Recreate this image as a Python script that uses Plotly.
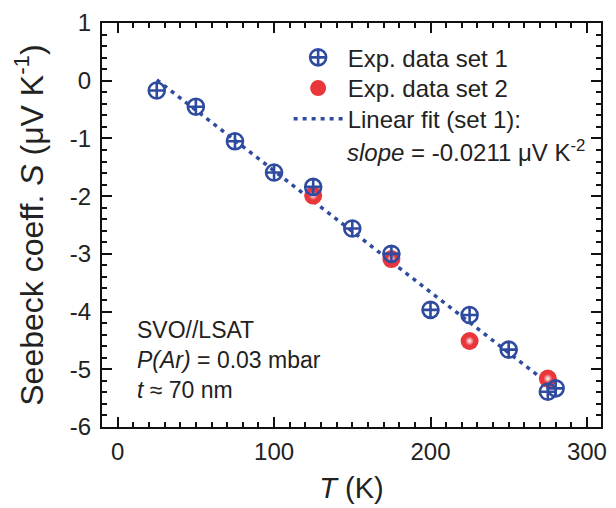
import numpy as np
import plotly.graph_objects as go

# ---- data ----
T_set1 = [25, 50, 75, 100, 125, 150, 175, 200, 225, 250, 275, 280]
S_set1 = [-0.17, -0.45, -1.05, -1.59, -1.84, -2.56, -3.00, -3.97, -4.06, -4.66, -5.39, -5.33]
T_set2 = [125, 175, 225, 275]
S_set2 = [-1.99, -3.09, -4.51, -5.16]
fit_T_range = [25, 275]

y_tickvals = [1, 0, -1, -2, -3, -4, -5, -6]
y_ticktext = ["1", "0", "-1", "-2", "-3", "-4", "-5", "-6"]
x_tickvals = [0, 100, 200, 300]

BLUE = "#2f4b9f"
RED = "#e8363b"
TXT = "#222"
FONT = "Liberation Sans"

slope, intercept = np.polyfit(T_set1, S_set1, 1)
fit_x = np.array(fit_T_range, dtype=float)
fit_y = slope * fit_x + intercept

fig = go.Figure()

fig.add_trace(go.Scatter(
    x=fit_x, y=fit_y, mode="lines",
    line=dict(color=BLUE, width=3.5, dash="4px,5px"),
    name="Linear fit (set 1):", legend="legend3",
))
fig.add_trace(go.Scatter(
    x=T_set2, y=S_set2, mode="markers",
    marker=dict(symbol="circle", size=18, color=RED, line=dict(width=0)),
    name="Exp. data set 2", legend="legend2",
))
fig.add_trace(go.Scatter(
    x=T_set2, y=S_set2, mode="markers",
    marker=dict(symbol="circle", size=9, color=RED,
                gradient=dict(type="radial", color="white"), line=dict(width=0)),
    showlegend=False, hoverinfo="skip",
))
fig.add_trace(go.Scatter(
    x=T_set1, y=S_set1, mode="markers",
    marker=dict(symbol="circle-cross-open", size=16, color=BLUE,
                line=dict(width=2.6, color=BLUE)),
    name="Exp. data set 1", legend="legend",
))

fig.add_annotation(
    xref="paper", yref="paper", x=0.487, y=0.684, xanchor="left", yanchor="middle",
    showarrow=False,
    text="<i>slope</i> = -0.0211 \u03bcV K<sup>-2</sup>",
    font=dict(family=FONT, size=24, color=TXT),
)

fig.add_annotation(
    xref="paper", yref="paper", x=0.066, y=0.278, xanchor="left", yanchor="top",
    align="left", showarrow=False,
    text="SVO//LSAT<br><i>P(Ar)</i> = 0.03 mbar<br><i>t</i> \u2248 70 nm",
    font=dict(family=FONT, size=23, color=TXT),
)

axis_common = dict(
    showline=True, linecolor="#111111", linewidth=2, mirror="ticks",
    ticks="inside", ticklen=10, tickwidth=1.8, tickcolor="#111111",
    showgrid=False, zeroline=False,
    tickfont=dict(family=FONT, size=24, color=TXT),
)

fig.update_xaxes(
    **axis_common, range=[-10, 309], tickvals=x_tickvals,
    minor=dict(dtick=10, ticks="inside", ticklen=5, tickwidth=1.5, tickcolor="#111111"),
    title=dict(text="<i>T</i> (K)", font=dict(family=FONT, size=29, color=TXT), standoff=14),
    ticklabelstandoff=2,
)
fig.update_yaxes(
    **axis_common, range=[-6, 1], tickvals=y_tickvals, ticktext=y_ticktext,
    minor=dict(dtick=0.2, ticks="inside", ticklen=5, tickwidth=1.5, tickcolor="#111111"),
    title=dict(text="Seebeck coeff. <i>S</i> (\u03bcV K<sup>-1</sup>)",
               font=dict(family=FONT, size=32, color=TXT), standoff=17),
    ticklabelstandoff=4,
)

leg_common = dict(x=0.374, xanchor="left", yanchor="middle",
                  bgcolor="rgba(0,0,0,0)", borderwidth=0,
                  itemwidth=49, tracegroupgap=0,
                  font=dict(family=FONT, size=24, color=TXT))

fig.update_layout(
    width=616, height=508,
    margin=dict(l=102, r=9, t=23, b=78),
    paper_bgcolor="white", plot_bgcolor="white",
    showlegend=True,
    legend=dict(y=0.914, **leg_common),
    legend2=dict(y=0.838, **leg_common),
    legend3=dict(y=0.762, **leg_common),
)

fig.write_html(
    "out.html",
    config={"displayModeBar": False},
    post_script="document.body.style.margin='0';document.body.style.padding='0';",
)
